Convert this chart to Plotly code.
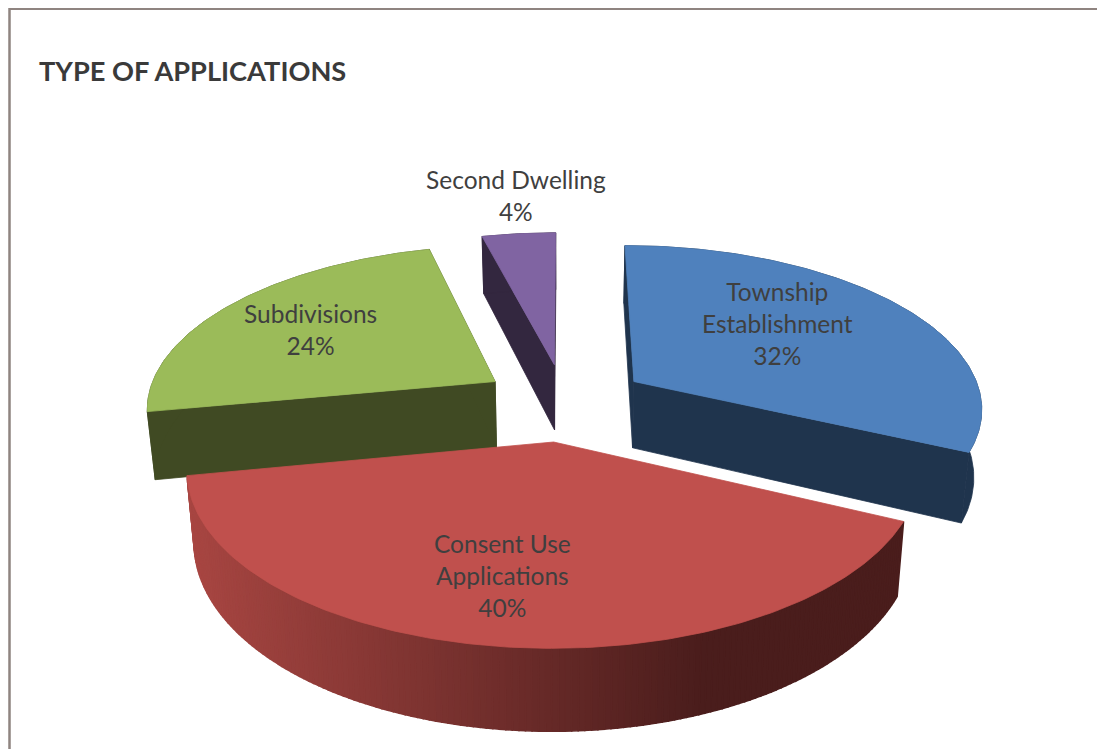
import math
import plotly.graph_objects as go

# Data
categories = ["Township<br>Establishment", "Consent Use<br>Applications", "Subdivisions", "Second Dwelling"]
percent = [32, 40, 24, 4]
top_colors = ["#4f81bd", "#c0504d", "#9bbb59", "#8064a2"]
wall_colors = ["#1f344d", None, "#404a23", "#33273f"]
label_xy = [(777, 323), (502, 575), (310, 329), (516, 195)]
title_text = "TYPE OF APPLICATIONS"

# Projection of the tilted pie onto the reference canvas
X0, Y0, A, B, K = 564.5, 402, 349, 162, 0.15
EXPLODE, DEPTH, SHRINK = 0.24, 67.5, 0.981


def project(u, v, low=False):
    w = 1 + K * v
    sx = A * u / w
    sy = -B * v / w
    if low:
        return X0 + sx * SHRINK, Y0 + sy + DEPTH / w
    return X0 + sx, Y0 + sy


def mix(c1, c2, t):
    t = max(0.0, min(1.0, t))
    return "rgb(%d,%d,%d)" % tuple(round(a + (b - a) * t) for a, b in zip(c1, c2))


def red_wall_colour(x):
    return mix((168, 70, 66), (74, 29, 28), (x - 190) / 510)


fig = go.Figure()


def poly(points, colour, width=0.8):
    xs = [p[0] for p in points] + [points[0][0]]
    ys = [p[1] for p in points] + [points[0][1]]
    fig.add_trace(go.Scatter(x=xs, y=ys, mode="lines", fill="toself", fillcolor=colour,
                             line=dict(color=colour, width=width), hoverinfo="skip", showlegend=False))


# slice geometry, drawn back to front
starts = []
acc = 0
for p in percent:
    starts.append(acc)
    acc += p

for i in [3, 2, 0, 1]:
    a0 = math.radians(starts[i] * 3.6)
    a1 = math.radians((starts[i] + percent[i]) * 3.6)
    mid = (a0 + a1) / 2
    cu, cv = EXPLODE * math.sin(mid), EXPLODE * math.cos(mid)
    n = max(8, percent[i] * 4)
    arc = [(cu + math.sin(a0 + (a1 - a0) * j / n), cv + math.cos(a0 + (a1 - a0) * j / n)) for j in range(n + 1)]
    wall = wall_colors[i]
    if wall:
        for end in (arc[0], arc[-1]):
            poly([project(cu, cv), project(*end), project(*end, low=True), project(cu, cv, low=True)], wall)
        poly([project(*q) for q in arc] + [project(*q, low=True) for q in reversed(arc)], wall)
    else:
        for j in range(n):
            quad = [project(*arc[j]), project(*arc[j + 1]), project(*arc[j + 1], low=True), project(*arc[j], low=True)]
            x_mid = sum(q[0] for q in quad) / 4
            poly(quad, red_wall_colour(x_mid), width=1.6)
    poly([project(cu, cv)] + [project(*q) for q in arc], top_colors[i])

# frame
fig.add_trace(go.Scatter(x=[9.5, 9.5, 1105], y=[749, 8.7, 8.7], mode="lines",
                         line=dict(color="#8f8480", width=2.5), hoverinfo="skip", showlegend=False))

# labels
for name, p, (lx, ly) in zip(categories, percent, label_xy):
    fig.add_annotation(x=lx, y=ly, text=f"{name}<br>{p}%", showarrow=False, xanchor="center", yanchor="middle",
                       font=dict(family="Lato", size=24.5, color="#3f3f3f"))
fig.add_annotation(x=37, y=70, text=f"<b>{title_text}</b>", showarrow=False, xanchor="left", yanchor="middle",
                   font=dict(family="Lato", size=27.2, color="#3a3a3a"))

# the page adds an 8 px body margin, so the plot area starts at (8, 8)
fig.update_layout(width=1097, height=741, margin=dict(l=0, r=0, t=0, b=0), autosize=False,
                  paper_bgcolor="white", plot_bgcolor="white",
                  xaxis=dict(range=[8, 1105], visible=False, fixedrange=True),
                  yaxis=dict(range=[749, 8], visible=False, fixedrange=True))

fig.write_html("out.html", config=dict(displayModeBar=False))
